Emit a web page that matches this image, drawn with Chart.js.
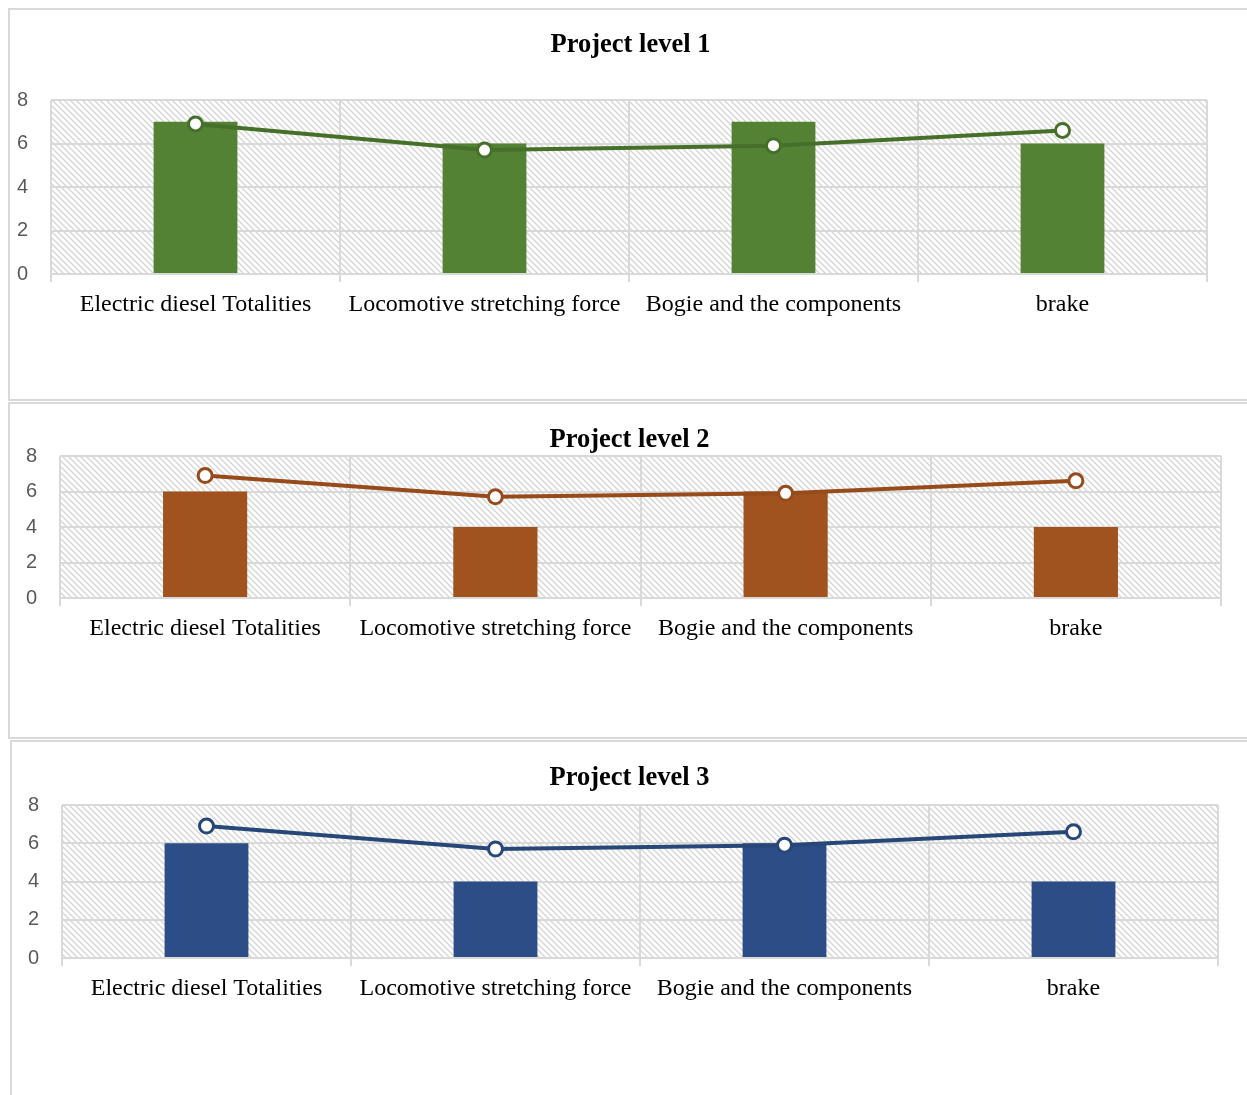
<!DOCTYPE html>
<html>
<head>
<meta charset="utf-8">
<script src="https://cdn.jsdelivr.net/npm/chart.js@4"></script>
<style>
  html, body { margin: 0; padding: 0; background: #fff; overflow: hidden; }
  body { width: 1247px; height: 1095px; position: relative; }
  .panel { position: absolute; border: 2px solid #d9d9d9; background: #fff; }
  .panel canvas { display: block; }
</style>
</head>
<body>
<div class="panel" id="p1"><canvas id="c1"></canvas></div>
<div class="panel" id="p2"><canvas id="c2"></canvas></div>
<div class="panel" id="p3"><canvas id="c3"></canvas></div>

<script>
// Categories and series
const categories = ['Electric diesel Totalities', 'Locomotive stretching force', 'Bogie and the components', 'brake'];
const level1Bars = [7, 6, 7, 6];
const level1Line = [6.9, 5.7, 5.9, 6.6];
const level2Bars = [6, 4, 6, 4];
const level2Line = [6.9, 5.7, 5.9, 6.6];
const level3Bars = [6, 4, 6, 4];
const level3Line = [6.9, 5.7, 5.9, 6.6];
const yTicks = [0, 2, 4, 6, 8];

const BORDER = 2;
const TITLE_SIZE = 26.5;

const panels = [
    { id: 1, title: 'Project level 1', bars: level1Bars, line: level1Line,
      color: '#548235', lineColor: '#467029',
      box: { left: 8, top: 8, width: 1245, height: 393 },
      area: { l: 51, t: 100, r: 1207, b: 274 }, titleY: 45 },
    { id: 2, title: 'Project level 2', bars: level2Bars, line: level2Line,
      color: '#a0531f', lineColor: '#974b1a',
      box: { left: 8, top: 402, width: 1243, height: 337 },
      area: { l: 60, t: 456, r: 1221, b: 598 }, titleY: 440 },
    { id: 3, title: 'Project level 3', bars: level3Bars, line: level3Line,
      color: '#2c4d85', lineColor: '#284779',
      box: { left: 10, top: 740, width: 1239, height: 400 },
      area: { l: 62, t: 805, r: 1218, b: 958 }, titleY: 778 }
];

// Diagonal hatch tile for the plot background
function makeHatchTile() {
    const s = 6;
    const c = document.createElement('canvas');
    c.width = s; c.height = s;
    const g = c.getContext('2d');
    g.fillStyle = '#ffffff';
    g.fillRect(0, 0, s, s);
    g.strokeStyle = '#d6d6d6';
    g.lineWidth = 1.4;
    g.beginPath();
    g.moveTo(-1, -1); g.lineTo(s + 1, s + 1);
    g.moveTo(-1, s - 1); g.lineTo(1, s + 1);
    g.moveTo(s - 1, -1); g.lineTo(s + 1, 1);
    g.stroke();
    return c;
}
const hatchTile = makeHatchTile();

const hatchPlugin = {
    id: 'hatch',
    beforeDraw(chart) {
        const { ctx, chartArea: a } = chart;
        ctx.save();
        ctx.fillStyle = ctx.createPattern(hatchTile, 'repeat');
        ctx.fillRect(a.left, a.top, a.right - a.left, a.bottom - a.top);
        ctx.restore();
    }
};

panels.forEach(p => {
    const el = document.getElementById('p' + p.id);
    const W = p.box.width - 2 * BORDER;
    const H = p.box.height - 2 * BORDER;
    el.style.left = p.box.left + 'px';
    el.style.top = p.box.top + 'px';
    el.style.width = W + 'px';
    el.style.height = H + 'px';

    const ox = p.box.left + BORDER;
    const oy = p.box.top + BORDER;
    const L = p.area.l - ox, T = p.area.t - oy, R = p.area.r - ox, B = p.area.b - oy;

    const canvas = document.getElementById('c' + p.id);
    canvas.width = W;
    canvas.height = H;

    const lineH = TITLE_SIZE * 1.2;
    const titleTop = p.titleY - oy - lineH / 2;
    const titleBottom = Math.max(0, T - titleTop - lineH);

    new Chart(canvas.getContext('2d'), {
        data: {
            labels: categories,
            datasets: [
                {
                    type: 'line',
                    data: p.line,
                    borderColor: p.lineColor,
                    borderWidth: 4,
                    pointRadius: 7,
                    pointBorderWidth: 3,
                    pointBackgroundColor: '#ffffff',
                    pointBorderColor: p.lineColor,
                    tension: 0,
                    order: 1
                },
                {
                    type: 'bar',
                    data: p.bars,
                    backgroundColor: p.color,
                    categoryPercentage: 1,
                    barPercentage: 0.29,
                    order: 2
                }
            ]
        },
        options: {
            responsive: false,
            animation: false,
            layout: { padding: 0 },
            plugins: {
                legend: { display: false },
                tooltip: { enabled: false },
                title: {
                    display: true,
                    text: p.title,
                    color: '#000000',
                    font: { family: 'Liberation Serif', size: TITLE_SIZE, weight: 'bold', lineHeight: 1.2 },
                    padding: { top: titleTop, bottom: titleBottom }
                }
            },
            scales: {
                x: {
                    offset: true,
                    grid: { color: '#d9d9d9', lineWidth: 2, offset: true, drawTicks: true, tickLength: 8 },
                    border: { display: false },
                    ticks: {
                        color: '#000000',
                        font: { family: 'Liberation Serif', size: 24 },
                        padding: 8,
                        maxRotation: 0,
                        autoSkip: false
                    },
                    afterFit(scale) { scale.height = H - B; }
                },
                y: {
                    min: yTicks[0],
                    max: yTicks[yTicks.length - 1],
                    afterBuildTicks(scale) { scale.ticks = yTicks.map(v => ({ value: v })); },
                    grid: { color: '#d9d9d9', lineWidth: 2, drawTicks: false },
                    border: { display: false },
                    ticks: {
                        color: '#595959',
                        font: { family: 'Liberation Sans', size: 20 },
                        padding: 23
                    },
                    afterFit(scale) { scale.width = L; }
                },
                // empty right margin so the title centres on the whole panel
                gap: {
                    position: 'right',
                    min: 0,
                    max: 1,
                    grid: { display: false },
                    border: { display: false },
                    ticks: { display: false },
                    afterFit(scale) { scale.width = W - R; }
                }
            }
        },
        plugins: [hatchPlugin]
    });
});
</script>
</body>
</html>
